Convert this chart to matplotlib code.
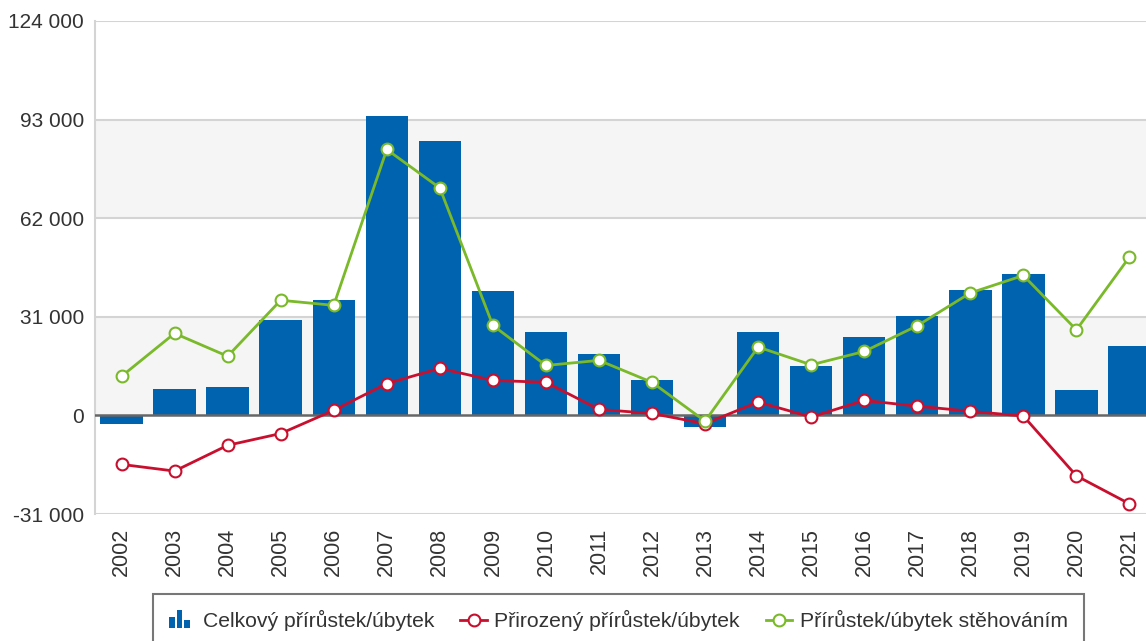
import matplotlib
matplotlib.use("Agg")
import matplotlib.pyplot as plt
from matplotlib.patches import Rectangle
from matplotlib.legend_handler import HandlerBase
from matplotlib.lines import Line2D

years = [str(y) for y in range(2002, 2022)]
total = [-2800, 8400, 8900, 30100, 36200, 94000, 86200, 39000, 26100, 19200,
         11000, -3500, 26200, 15500, 24800, 31300, 39500, 44300, 7900, 21800]
natural = [-15400, -17500, -9400, -5700, 1600, 10000, 14800, 11000, 10400, 1900,
           600, -2600, 4200, -500, 4700, 2900, 1300, -200, -19000, -27800]
migration = [12300, 25800, 18600, 36200, 34600, 83600, 71500, 28300, 15700, 17300,
             10400, -1800, 21500, 15900, 20100, 28200, 38500, 44000, 26900, 49800]
yticks = [-31000, 0, 31000, 62000, 93000, 124000]
labels = ["Celkový přírůstek/úbytek", "Přirozený přírůstek/úbytek", "Přírůstek/úbytek stěhováním"]

BLUE = "#0063b0"
RED = "#c8102e"
GREEN = "#7ab929"
TXT = "#333333"

plt.rcParams['font.family'] = ['Liberation Sans', 'DejaVu Sans']

W, H = 1146, 641
fig = plt.figure(figsize=(W / 100, H / 100), dpi=100)
left, right, top, bottom = 95, 95 + 20 * 53.05, 21, 514
ax = fig.add_axes([left / W, 1 - bottom / H, (right - left) / W, (bottom - top) / H])
ax.set_xlim(-0.5, len(years) - 0.5)
ax.set_ylim(yticks[0], yticks[-1])

# alternating bands
for lo, hi in [(0, 31000), (62000, 93000)]:
    ax.axhspan(lo, hi, color="#f5f5f5", zorder=0, lw=0)
for t in yticks[2:]:
    ax.axhline(t, color="#d4d4d4", lw=1.5, zorder=1)
ax.axhline(yticks[0], color="#d4d4d4", lw=1.5, zorder=1)

x = list(range(len(years)))
ax.bar(x, total, width=0.8, color=BLUE, zorder=2)
ax.axhline(0, color="#666666", lw=1.8, zorder=3)
ax.plot(x, natural, color=RED, lw=2, marker="o", ms=8.5, mfc="white", mec=RED, mew=1.5, zorder=4)
ax.plot(x, migration, color=GREEN, lw=2, marker="o", ms=8.5, mfc="white", mec=GREEN, mew=1.5, zorder=5)

for s in ["top", "right", "bottom"]:
    ax.spines[s].set_visible(False)
ax.spines["left"].set_color("#d4d4d4")
ax.spines["left"].set_linewidth(1.5)

ax.set_yticks(yticks)
ax.set_yticklabels([f"{v:,}".replace(",", " ") for v in yticks], fontsize=15, color=TXT)
ax.set_xticks(x)
ax.set_xticklabels(years, rotation=90, fontsize=15.5, color=TXT)
ax.tick_params(axis="both", length=0)
ax.tick_params(axis="x", pad=10)
ax.tick_params(axis="y", pad=8)


class BarIconHandler(HandlerBase):
    def create_artists(self, legend, orig_handle, xdescent, ydescent, width, height, fontsize, trans):
        arts = []
        bw = width / 4.6
        hs = [0.7, 1.15, 0.45]
        for i, h in enumerate(hs):
            arts.append(Rectangle((-xdescent + i * bw * 1.35, -ydescent - 1), bw, height * h + 1,
                                  facecolor=BLUE, edgecolor="none", transform=trans))
        return arts


bar_handle = Rectangle((0, 0), 1, 1, color=BLUE)
red_handle = Line2D([], [], color=RED, lw=2, marker="o", ms=8.5, mfc="white", mec=RED, mew=1.5)
green_handle = Line2D([], [], color=GREEN, lw=2, marker="o", ms=8.5, mfc="white", mec=GREEN, mew=1.5)

leg = fig.legend([bar_handle, red_handle, green_handle], labels,
                 handler_map={Rectangle: BarIconHandler()},
                 loc="upper left", bbox_to_anchor=(153 / W, 1 - 594 / H),
                 ncol=3, fontsize=15.2, frameon=True, fancybox=False,
                 handlelength=1.25, handletextpad=0.35, columnspacing=1.25,
                 borderpad=0.75, borderaxespad=0, labelcolor=TXT)
leg.get_frame().set_edgecolor("#555555")
leg.get_frame().set_linewidth(1.5)

fig.savefig("out.png", dpi=100)
